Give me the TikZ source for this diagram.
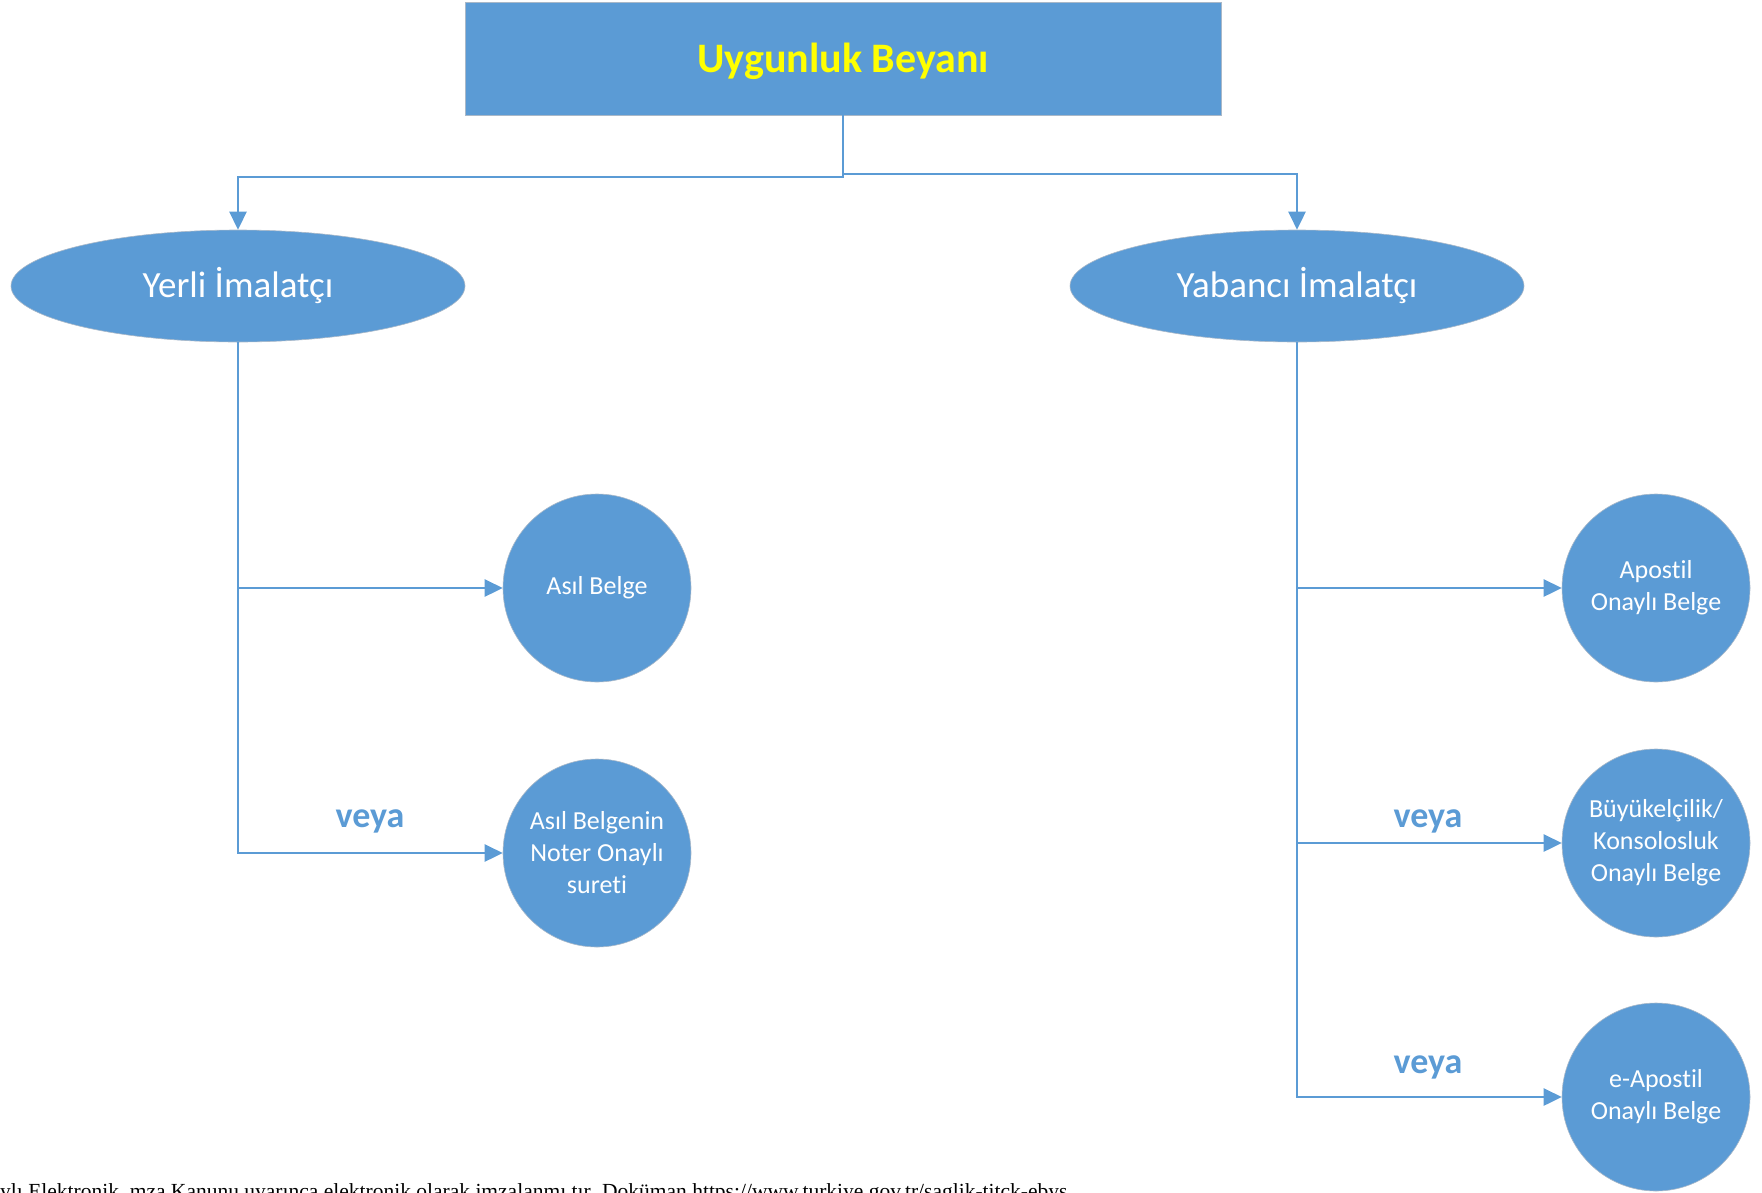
\documentclass[tikz,border=0pt]{standalone}
\usepackage{fontspec}
\setmainfont{Carlito}[Ligatures=NoCommon]
\newfontfamily\timesf{Liberation Serif}
\usetikzlibrary{arrows.meta,shapes.geometric}
\definecolor{bl}{HTML}{5B9BD5}
\definecolor{yel}{HTML}{FFFF00}
\definecolor{edge}{HTML}{A9B8C8}
\begin{document}
\begin{tikzpicture}[x=1pt,y=-1pt,
  conn/.style={draw=bl,line width=2.6pt},
  arr/.style={conn,-{Triangle[length=18pt,width=17pt]}},
  oval/.style={ellipse,fill=bl,draw=edge,line width=0.6pt,minimum width=454pt,minimum height=112pt,inner sep=0pt,text=white,font=\fontsize{37}{44}\selectfont},
  doc/.style={circle,fill=bl,draw=edge,line width=0.6pt,minimum size=188pt,inner sep=0pt,text=white,align=center,font=\fontsize{26}{32}\selectfont},
  veya/.style={text=bl,inner sep=0pt,font=\bfseries\fontsize{36}{40}\selectfont}]
\useasboundingbox (0,0) rectangle (1762,1192);
\node[fill=bl,draw=edge,line width=0.6pt,minimum width=756pt,minimum height=113pt,inner sep=0pt,text height=36pt,text depth=9pt,text=yel,font=\bfseries\fontsize{42}{48}\selectfont] (title) at (843,58.5) {Uygunluk Beyanı};
\node[oval] (yerli) at (238,286) {Yerli İmalatçı};
\node[oval] (yabanci) at (1297,286) {Yabancı İmalatçı};
\node[doc] (asil) at (597,588) {Asıl Belge};
\node[doc] (noter) at (597,853) {Asıl Belgenin\\Noter Onaylı\\sureti};
\node[doc] (apostil) at (1656,588) {Apostil\\Onaylı Belge};
\node[doc] (buyuk) at (1656,843) {Büyükelçilik/\\Konsolosluk\\Onaylı Belge};
\node[doc] (eapos) at (1656,1097) {e-Apostil\\Onaylı Belge};
\coordinate (jl) at (238,177);
\coordinate (jr) at (1297,174);
\draw[arr] (title.south) |- (jl) -- (yerli.north);
\draw[arr] (title.south |- jr) -| (yabanci.north);
\draw[arr] (yerli.south) |- (noter.west);
\draw[arr] (yerli.south |- asil.west) -- (asil.west);
\draw[arr] (yabanci.south) |- (eapos.west);
\draw[arr] (yabanci.south |- apostil.west) -- (apostil.west);
\draw[arr] (yabanci.south |- buyuk.west) -- (buyuk.west);
\node[veya] (v1) at (370,821) {veya};
\node[veya] (v2) at (1428,821) {veya};
\node[veya] (v3) at (1428,1067) {veya};
\begin{scope}
\clip (0,0) rectangle (1762,1192);
\node[anchor=base west,inner sep=0pt,font=\timesf\fontsize{21.5}{26}\selectfont] (foot) at (0,1198) {ylı Elektronik\ \ mza Kanunu uyarınca elektronik olarak imzalanmı tır. Doküman https://www.turkiye.gov.tr/saglik-titck-ebys};
\end{scope}
\end{tikzpicture}
\end{document}
